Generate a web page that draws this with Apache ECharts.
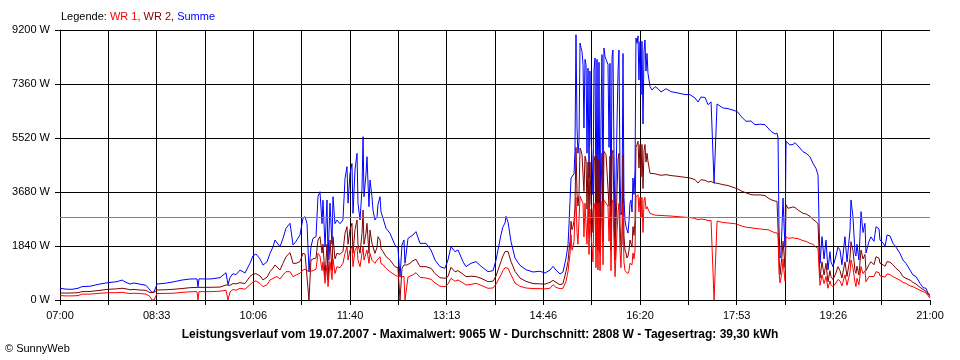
<!DOCTYPE html>
<html>
<head>
<meta charset="utf-8">
<script src="https://cdn.jsdelivr.net/npm/echarts@6/dist/echarts.min.js"></script>
<style>html,body{margin:0;padding:0;background:#fff}#c{width:960px;height:360px}</style>
</head>
<body>
<div id="c"></div>
<script>
// minutes after 07:00
const minutes = [0,5.8,11.6,17.4,21.2,29.0,38.6,46.3,55.0,59.9,63.7,67.6,71.4,77.2,83.0,86.9,88.8,90.8,93.7,101.4,109.1,117.8,125.5,132.3,133.2,134.2,144.8,154.5,160.3,162.2,164.1,167.0,169.9,173.8,178.6,183.4,186.3,189.2,193.1,196.0,199.9,202.8,205.7,207.6,209.5,212.4,215.3,218.2,222.1,225.0,227.9,231.7,234.6,236.6,238.5,240.4,241.4,242.3,244.3,247.2,249.1,251.0,253.0,253.9,255.9,257.8,258.8,260.7,262.6,263.6,265.5,267.4,270.3,273.2,275.2,277.1,278.1,280.0,281.9,282.9,284.8,286.8,287.7,289.7,291.6,292.6,293.5,295.4,296.4,298.3,299.3,301.2,302.2,304.1,306.1,307.0,309.0,309.9,311.9,314.8,318.6,323.4,326.3,327.3,328.3,329.2,330.2,332.1,333.1,335.0,336.0,337.9,340.8,343.7,347.6,353.4,358.2,362.1,366.9,371.7,374.6,377.5,381.4,384.3,386.2,389.1,392.0,396.8,401.7,406.5,413.2,418.1,421.0,422.9,425.8,427.7,429.7,430.6,432.6,435.4,439.3,444.1,449.9,456.7,463.4,468.3,473.1,476.0,478.9,482.8,485.6,488.6,490.5,491.5,492.4,493.4,494.3,495.3,496.3,497.2,498.2,499.2,500.1,501.1,502.1,503.0,504.0,505.0,505.9,506.9,507.9,508.8,509.8,510.8,511.7,512.7,513.7,514.6,515.6,516.6,517.5,518.5,519.4,520.4,521.4,522.3,523.3,524.3,525.2,526.2,527.2,528.1,529.1,530.1,531.0,532.0,533.0,533.9,534.9,535.9,536.8,537.8,538.8,539.7,540.7,541.6,542.6,543.6,544.5,545.5,546.5,547.4,548.4,549.4,550.3,551.3,552.3,553.2,554.2,555.2,556.1,557.1,558.1,559.0,560.0,561.0,561.9,562.9,563.9,564.8,565.8,566.8,567.7,569.7,571.6,574.5,577.4,580.3,585.1,589.9,596.7,603.5,608.3,613.1,616.0,618.9,622.8,625.7,628.6,629.5,631.5,633.4,634.4,635.3,640.1,645.0,651.7,654.6,657.5,662.4,667.2,671.0,675.9,680.7,683.6,686.5,690.3,692.3,693.3,694.2,695.2,696.1,697.1,698.1,699.0,700.0,701.0,702.9,704.8,707.7,709.7,712.6,717.4,720.3,724.1,727.0,729.9,731.9,732.8,733.8,735.7,737.7,739.6,741.5,743.4,744.4,746.3,749.2,751.1,753.1,755.0,757.9,759.9,760.8,762.8,763.7,765.6,767.6,768.5,769.5,771.4,773.4,775.3,777.2,778.2,781.1,783.0,785.9,787.9,790.8,791.7,794.6,796.6,798.5,801.4,804.3,807.2,811.0,813.9,816.8,820.7,823.6,826.5,830.4,833.3,836.1,838.1,840.0];

const summe = [398,370,364,400,455,470,545,590,625,680,600,545,580,540,500,340,260,280,545,570,615,680,715,720,450,720,715,760,930,520,760,900,860,1020,920,1250,1500,1567,1400,1190,1300,1590,1815,2044,2100,1817,2100,2442,2612,1874,2000,2215,2783,2840,2600,965,980,1817,2100,2158,3520,3690,2600,3400,1817,3407,1363,3300,1900,3520,2600,2726,2600,2726,4145,4543,3300,4317,4650,2953,4430,4998,3300,2726,3800,5565,3520,4260,4883,3180,4089,3520,3067,2726,2840,3250,3520,3010,2780,2442,2272,1874,1760,1760,795,795,1874,2044,1250,1250,2100,2158,2215,2329,1930,1930,1704,1363,1136,1080,1363,1817,1647,1704,1704,1306,1136,1250,1306,1150,965,1000,1363,1431,2226,2500,2624,2851,2650,2000,1431,1181,1033,954,980,920,1020,1147,1020,886,950,1431,1885,2600,3362,4157,4089,4100,4300,5066,9040,5860,5000,5400,8756,8600,8473,8020,5860,8200,8020,5000,7900,4157,7800,5500,4800,3590,7837,8245,2900,8200,2726,8100,2600,6000,8360,3180,8587,8300,8200,8178,8020,5200,8065,2680,8300,8519,5000,2158,2226,6000,7790,8519,4320,2900,3000,8400,3500,2726,2500,2453,2280,2700,3295,3400,3000,4157,3600,4430,8926,8746,9000,7500,8800,7000,8813,6000,8500,8860,7800,8400,7724,7270,7155,7270,7200,7087,7200,7100,7053,7000,6996,6883,6747,6915,6900,6655,6750,6720,3987,3990,6678,6678,6542,6520,6450,6400,6258,6088,6100,5974,5990,5974,5860,5747,5656,5690,5520,2453,1431,1500,2500,3475,2600,1800,5406,5350,5281,5300,5360,5250,5053,5000,4883,4657,4487,4259,2726,1250,2158,1400,2040,1022,1647,1300,1136,1500,1800,1704,1200,2158,1300,1250,2385,3407,2840,1600,1500,1900,1363,3010,2300,2612,1600,2000,2150,2000,2500,2420,2044,1950,1817,2215,2180,1930,1800,1590,1363,1250,1022,852,800,568,420,400,230,170];

const wr2 = [240,235,240,250,285,290,330,364,380,400,380,350,360,340,330,250,250,260,340,350,364,390,420,430,430,432,432,440,511,511,500,560,550,590,560,800,880,900,820,681,780,965,1090,1193,1200,1022,1250,1476,1613,1250,1250,1306,1590,1560,1530,0,0,1363,1400,1430,2044,2158,1600,1900,795,1900,681,2044,1000,2158,1400,1590,1560,1650,2272,2499,1900,2400,2612,1590,2400,2726,1900,1590,2272,3067,1900,2272,2612,1590,2385,1930,1900,1590,1800,2158,2044,1760,1650,1476,1363,1136,1100,1080,0,0,1080,1193,1193,1193,1250,1250,1340,1386,1136,1136,1080,900,760,738,800,1113,960,1000,1022,880,795,810,795,740,625,640,818,860,1318,1500,1650,1715,1650,1318,977,750,636,560,550,540,600,670,600,522,560,977,1318,1700,2000,2680,2400,2500,2700,3135,5200,3600,3200,3600,5180,5100,4950,4950,3700,4900,4770,3100,4700,2600,4700,3300,3000,2300,4700,4900,1800,4900,1704,4800,1600,3600,5000,2000,5066,5000,4950,4950,4900,3200,4900,1700,5000,5100,3000,1363,1400,3700,4800,5000,2600,1800,1900,4950,2200,1700,1600,1431,1500,1700,2044,2100,1800,2500,2200,2700,5200,5300,5406,4500,5300,4200,5300,3800,5100,5300,4700,5000,4725,4317,4290,4300,4270,4250,4270,4240,4213,4180,4157,4100,3987,4100,4080,4020,4040,4010,3987,3980,3980,3975,3930,3900,3816,3780,3720,3650,3590,3580,3580,3560,3480,3418,3370,3362,3300,1500,863,850,1500,2000,1600,1100,3248,3124,3150,3170,3150,3067,2953,2930,2850,2749,2669,2600,1700,750,1300,850,1250,620,1000,800,700,920,1136,1000,750,1300,800,760,1450,1987,1700,1000,909,1150,850,1704,1400,1550,1000,1200,1306,1200,1476,1420,1250,1200,1150,1306,1290,1200,1080,965,795,740,681,600,545,430,360,300,200,113];

const wr1 = [150,140,140,150,200,200,230,250,250,260,240,220,230,220,200,120,0,0,220,225,230,260,280,285,0,285,283,300,330,0,270,360,330,398,370,520,620,650,560,455,520,681,740,795,800,716,850,965,965,795,850,909,1022,1050,1000,965,965,965,1000,1050,1590,1500,1000,1300,568,1200,455,1300,700,1400,900,1136,1100,1250,1590,1817,1360,1700,1817,1136,1700,1817,1360,1136,1590,1817,1360,1590,1700,1250,1590,1360,1363,1250,1363,1400,1476,1250,1200,1080,965,852,800,795,795,795,795,800,0,0,780,800,860,931,773,750,704,580,470,455,540,738,640,680,704,580,511,530,568,500,398,410,540,580,863,1000,1100,1147,1080,863,580,466,409,390,386,380,400,522,430,386,400,636,977,1300,1545,2226,1700,1800,2000,2908,3500,2300,1900,1900,3532,3500,3500,3300,2150,3300,3250,1900,3200,1550,3100,2200,1800,1300,3100,3300,1100,3300,1022,3300,1000,2400,3360,1200,3400,3362,3300,3250,3200,2000,3200,1000,3300,3400,2000,795,850,2300,3000,3300,1700,1100,1100,3300,1300,1000,950,977,900,1000,1250,1300,1200,1600,1400,1700,3500,3500,3590,3000,3500,2800,3500,2300,3400,3500,3100,3180,3100,2953,2900,2890,2885,2880,2870,2860,2840,2820,2810,2780,2737,2760,2740,2703,2710,2705,0,0,2690,2690,2640,2624,2600,2567,2530,2480,2460,2440,2420,2400,2396,2350,2290,2283,2200,950,580,570,950,1400,1000,650,2170,2100,2110,2120,2100,2090,2022,2000,1930,1900,1800,1760,1100,500,860,560,800,400,650,520,450,580,700,650,480,860,500,480,950,1363,1100,600,455,740,520,1136,900,1000,620,800,850,800,965,930,820,800,780,886,870,795,740,680,600,568,480,455,400,330,290,240,150,57];

const xTickLabels = ['07:00','08:33','10:06','11:40','13:13','14:46','16:20','17:53','19:26','21:00'];
const xSteps = 18;          // grid divisions across the day
const daySeconds = 50400;   // 07:00 .. 21:00
const yMax = 9200;
const yStep = 1840;
const avgValue = 2808;
const seriesNames = ['WR 1', 'WR 2', 'Summe'];
const footerText = 'Leistungsverlauf vom 19.07.2007 - Maximalwert: 9065 W - Durchschnitt: 2808 W - Tagesertrag: 39,30 kWh';
const copyText = '\u00A9 SunnyWeb';

const FONT = '"Liberation Sans", Arial, sans-serif';
const chart = echarts.init(document.getElementById('c'));
// axis runs in seconds after 07:00
const pairs = arr => minutes.map((t, i) => [Math.round(t * 60), arr[i]]);
const step = daySeconds / xSteps;
// vertical grid lines: all black except the one at the right edge (none in the original)
const vGridColors = [];
for (let i = 0; i <= xSteps; i++) vGridColors.push(i === xSteps ? 'rgba(0,0,0,0)' : '#000000');

const lineSeries = (name, data, color, extra) => Object.assign({
  name: name, type: 'line', data: pairs(data), showSymbol: false,
  lineStyle: {color: color, width: 1}, itemStyle: {color: color}
}, extra || {});

chart.setOption({
  animation: false,
  grid: {left: 60, right: 30, top: 30, bottom: 60, containLabel: false},
  title: [
    {
      text: '{k|Legende: }{a|' + seriesNames[0] + ', }{b|' + seriesNames[1] + ', }{c|' + seriesNames[2] + '}',
      left: 61, top: 10, padding: 0,
      textStyle: {
        fontSize: 11, fontFamily: FONT, fontWeight: 'normal', lineHeight: 13,
        rich: {
          k: {color: '#000000', fontSize: 11, fontFamily: FONT, lineHeight: 13},
          a: {color: '#ff0000', fontSize: 11, fontFamily: FONT, lineHeight: 13},
          b: {color: '#800000', fontSize: 11, fontFamily: FONT, lineHeight: 13},
          c: {color: '#0000ff', fontSize: 11, fontFamily: FONT, lineHeight: 13}
        }
      }
    },
    {
      text: footerText, left: 'center', top: 328, padding: 0,
      textStyle: {fontSize: 12, fontFamily: FONT, fontWeight: 'bold', color: '#000', lineHeight: 14}
    },
    {
      text: copyText, left: 5, top: 342, padding: 0,
      textStyle: {fontSize: 11, fontFamily: FONT, fontWeight: 'normal', color: '#000', lineHeight: 13}
    }
  ],
  xAxis: {
    type: 'value', min: 0, max: daySeconds, interval: step, z: 3,
    axisLine: {show: true, onZero: false, lineStyle: {color: '#000', width: 1}},
    axisTick: {show: true, length: 5, lineStyle: {color: '#000', width: 1}},
    splitLine: {show: true, lineStyle: {color: vGridColors, width: 1}},
    axisLabel: {
      margin: 10, fontSize: 11, fontFamily: FONT, color: '#000',
      formatter: function (v) {
        const k = Math.round(v / step);
        return k % 2 === 0 ? xTickLabels[k / 2] : '';
      }
    }
  },
  yAxis: {
    type: 'value', min: 0, max: yMax, interval: yStep, z: 3,
    axisLine: {show: true, lineStyle: {color: '#000', width: 1}},
    axisTick: {show: true, length: 5, lineStyle: {color: '#000', width: 1}},
    splitLine: {show: true, lineStyle: {color: '#000', width: 1}},
    axisLabel: {margin: 10, fontSize: 11, fontFamily: FONT, color: '#000', formatter: function (v) { return v + ' W'; }}
  },
  series: [
    lineSeries(seriesNames[2], summe, '#0000ff'),
    lineSeries(seriesNames[1], wr2, '#800000'),
    lineSeries(seriesNames[0], wr1, '#ff0000', {
      markLine: {
        silent: true, symbol: ['none', 'none'],
        label: {show: false},
        lineStyle: {color: '#808080', width: 1, type: 'solid'},
        data: [{yAxis: avgValue}]
      }
    })
  ]
});
</script>
</body>
</html>
